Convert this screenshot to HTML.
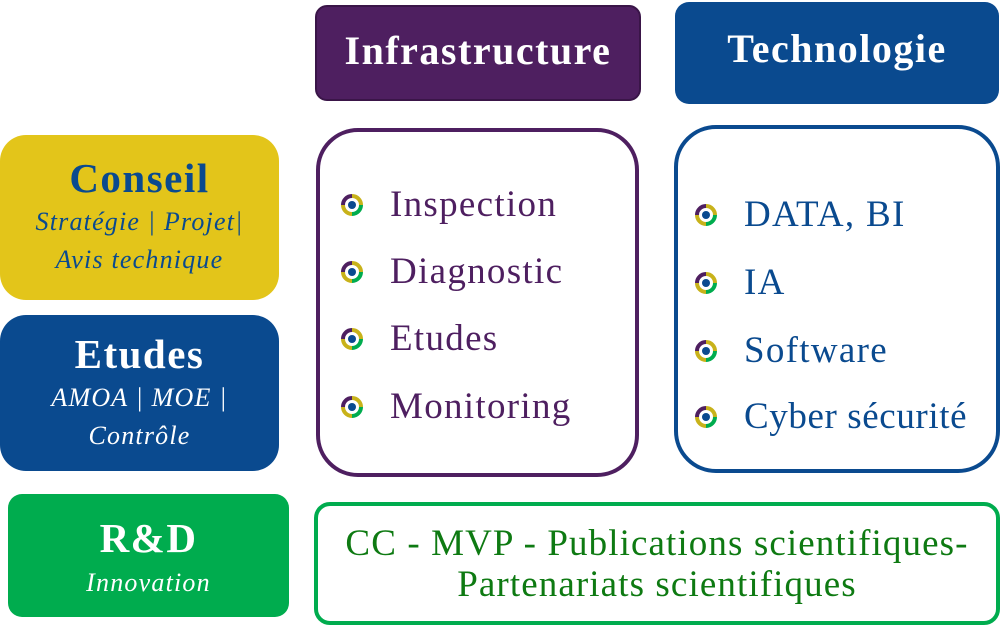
<!DOCTYPE html><html><head><style>
body{margin:0;width:1001px;height:632px;background:#fff;position:relative;overflow:hidden;font-family:"Liberation Serif",serif}
.b{position:absolute;box-sizing:border-box;text-align:center;white-space:nowrap}
.h{color:#fff;font-weight:bold;font-size:40px;letter-spacing:1.5px}
.t{font-size:41px;font-weight:bold;letter-spacing:1.5px}
.s{font-style:italic;font-size:26px;line-height:38px;letter-spacing:1.2px}
.li{position:absolute;font-size:37px;white-space:nowrap;letter-spacing:1.3px}
.li svg{position:absolute;left:-49px;top:11px}
</style></head><body>
<div class="b h" style="left:315px;top:5px;width:326px;height:96px;background:#4e1f60;border:2px solid #3a1548;border-radius:12px;line-height:88px">Infrastructure</div>
<div class="b h" style="left:675px;top:2px;width:324px;height:102px;background:#0a4a8f;border-radius:14px;line-height:94px">Technologie</div>
<div class="b" style="left:0;top:135px;width:279px;height:165px;background:#e3c51a;border-radius:26px;color:#0a4a8f;padding-top:18px">
<div class="t" style="line-height:50px">Conseil</div><div class="s">Stratégie | Projet|<br>Avis technique</div></div>
<div class="b" style="left:0;top:315px;width:279px;height:156px;background:#0a4a8f;border-radius:26px;color:#fff;padding-top:14px">
<div class="t" style="line-height:50px">Etudes</div><div class="s">AMOA | MOE |<br>Contrôle</div></div>
<div class="b" style="left:8px;top:494px;width:281px;height:123px;background:#00ac4e;border-radius:14px;color:#fff;padding-top:18px">
<div class="t" style="line-height:52px">R&amp;D</div><div class="s">Innovation</div></div>
<div class="b" style="left:316px;top:128px;width:323px;height:349px;border:4px solid #4e1f60;border-radius:42px"></div>
<div class="b" style="left:674px;top:125px;width:326px;height:348px;border:4px solid #0a4a8f;border-radius:42px"></div>
<div class="b" style="left:314px;top:502px;width:686px;height:123px;border:4px solid #00ac4e;border-radius:16px;color:#0e7a12;font-size:37px;line-height:41px;padding-top:17px;letter-spacing:1.1px">CC - MVP - Publications scientifiques-<br>Partenariats scientifiques</div>
<svg width="0" height="0" style="position:absolute"><defs><g id="bl"><path d="M2,11 A9,9 0 0 1 11,2" stroke="#4e1f60" stroke-width="4" fill="none"/><path d="M11,2 A9,9 0 0 1 20,11" stroke="#c8b21a" stroke-width="4" fill="none"/><path d="M20,11 A9,9 0 0 1 11,20" stroke="#00ac4e" stroke-width="4" fill="none"/><path d="M11,20 A9,9 0 0 1 2,11" stroke="#c8b21a" stroke-width="4" fill="none"/><circle cx="11" cy="11" r="4" fill="#0a4a8f"/></g></defs></svg>
<div style="color:#4e1f60">
<div class="li" style="left:390px;top:183px"><svg width="22" height="22"><use href="#bl"/></svg>Inspection</div>
<div class="li" style="left:390px;top:250px"><svg width="22" height="22"><use href="#bl"/></svg>Diagnostic</div>
<div class="li" style="left:390px;top:317px"><svg width="22" height="22"><use href="#bl"/></svg>Etudes</div>
<div class="li" style="left:390px;top:385px"><svg width="22" height="22"><use href="#bl"/></svg>Monitoring</div>
</div>
<div style="color:#0a4a8f">
<div class="li" style="left:744px;top:193px"><svg width="22" height="22"><use href="#bl"/></svg>DATA, BI</div>
<div class="li" style="left:744px;top:261px"><svg width="22" height="22"><use href="#bl"/></svg>IA</div>
<div class="li" style="left:744px;top:329px"><svg width="22" height="22"><use href="#bl"/></svg>Software</div>
<div class="li" style="left:744px;top:395px;letter-spacing:0.6px"><svg width="22" height="22"><use href="#bl"/></svg>Cyber sécurité</div>
</div>
</body></html>
